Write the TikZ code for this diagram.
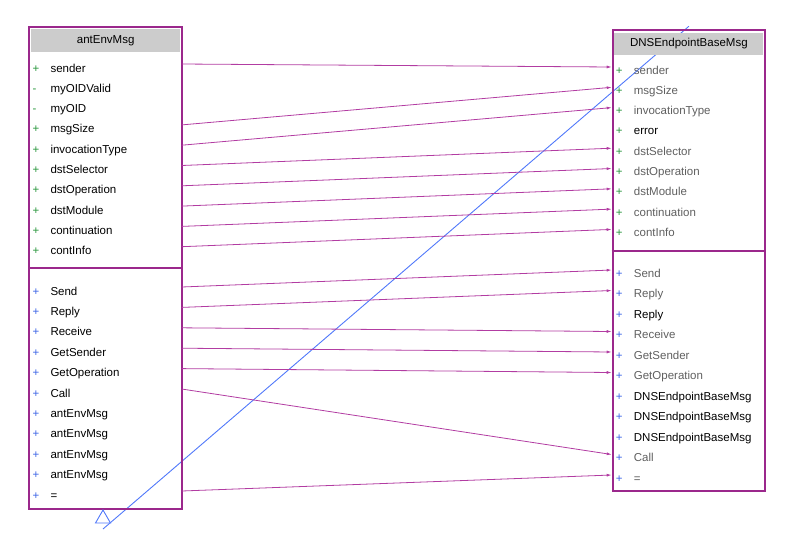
\documentclass[tikz,border=0pt]{standalone}
\usepackage{fontspec}
\setmainfont{Liberation Sans}
\usetikzlibrary{arrows.meta,positioning,backgrounds}
\definecolor{clsline}{RGB}{155,40,140}
\definecolor{usage}{RGB}{178,60,162}
\definecolor{inherit}{RGB}{80,120,250}
\definecolor{hdr}{RGB}{204,204,204}
\definecolor{attr}{RGB}{40,150,60}
\definecolor{meth}{RGB}{60,100,230}
\definecolor{inh}{RGB}{95,95,95}
\tikzset{
  clsbox/.style={rectangle, draw=clsline, line width=2pt, anchor=north west, inner sep=0pt},
  hdrbox/.style={rectangle, fill=hdr, inner sep=0pt, font=\fontsize{11.5}{13}\selectfont},
  member/.style={anchor=west, inner xsep=0pt, inner ysep=0pt, text height=8.5pt, text depth=2.5pt,
                 text width=153pt, align=left, font=\fontsize{11.5}{13}\selectfont},
  sep/.style={draw=clsline, line width=2pt},
  ar/.style={draw=usage, line width=0.8pt, -{Latex[length=5pt,width=3pt]}},
  gen/.style={draw=inherit, line width=0.9pt},
}
\newcommand{\mbr}[3]{\makebox[22pt][l]{\hspace{4pt}\textcolor{#1}{#2}}#3}

\begin{document}
\begin{tikzpicture}[x=1pt,y=-1pt]
\useasboundingbox (0,0) rectangle (811,558);

% antEnvMsg
\node[clsbox, minimum width=152.7pt, minimum height=482.3pt] (lcls) at (28.3,26) {};
\node[hdrbox, minimum width=149pt, minimum height=22.7pt, below=3pt of lcls.north] (lhead) {antEnvMsg};
\draw[sep] (28.3,268.3) -- (181,268.3);
\foreach \i/\m/\t in {1/+/sender,2/-/myOIDValid,3/-/myOID,4/+/msgSize,5/+/invocationType,
  6/+/dstSelector,7/+/dstOperation,8/+/dstModule,9/+/continuation,10/+/contInfo}
  \node[member] (la\i) at (28.3,{69+(\i-1)*20.3}) {\mbr{attr}{\m}{\t}};
\foreach \i/\t in {1/Send,2/Reply,3/Receive,4/GetSender,5/GetOperation,6/Call,
  7/antEnvMsg,8/antEnvMsg,9/antEnvMsg,10/antEnvMsg,11/=}
  \node[member] (lm\i) at (28.3,{292+(\i-1)*20.4}) {\mbr{meth}{+}{\t}};

% DNSEndpointBaseMsg
\node[clsbox, minimum width=152.3pt, minimum height=460.7pt] (rcls) at (611.7,29.3) {};
\node[hdrbox, minimum width=149pt, minimum height=22pt, below=3pt of rcls.north] (rhead) {DNSEndpointBaseMsg};
\draw[sep] (611.7,250.7) -- (764,250.7);
\foreach \i/\c/\t in {1/inh/sender,2/inh/msgSize,3/inh/invocationType,4/black/error,
  5/inh/dstSelector,6/inh/dstOperation,7/inh/dstModule,8/inh/continuation,9/inh/contInfo}
  \node[member, text=\c] (ra\i) at (611.7,{71+(\i-1)*20.3}) {\mbr{attr}{+}{\t}};
\foreach \i/\c/\t in {1/inh/Send,2/inh/Reply,3/black/Reply,4/inh/Receive,5/inh/GetSender,
  6/inh/GetOperation,7/black/DNSEndpointBaseMsg,8/black/DNSEndpointBaseMsg,
  9/black/DNSEndpointBaseMsg,10/inh/Call,11/inh/=}
  \node[member, text=\c] (rm\i) at (611.7,{274+(\i-1)*20.5}) {\mbr{meth}{+}{\t}};

% usage links
\foreach \a/\b in {la1/ra1,la4/ra2,la5/ra3,la6/ra5,la7/ra6,la8/ra7,la9/ra8,la10/ra9,
  lm1/rm1,lm2/rm2,lm3/rm4,lm4/rm5,lm5/rm6,lm6/rm10,lm11/rm11}
  \draw[ar] ([yshift=5pt]\a.east) -- ([yshift=4pt]\b.west);

% inheritance
\coordinate (gtip) at (103,510);
\coordinate (gend) at (103,529);
\begin{scope}[on background layer]
\draw[gen] ([yshift=3pt]rcls.north) -- (gend);
\end{scope}
\draw[gen, fill=white] (gtip) -- ++(-7.5,13) -- ++(15,0) -- cycle;
\end{tikzpicture}
\end{document}
